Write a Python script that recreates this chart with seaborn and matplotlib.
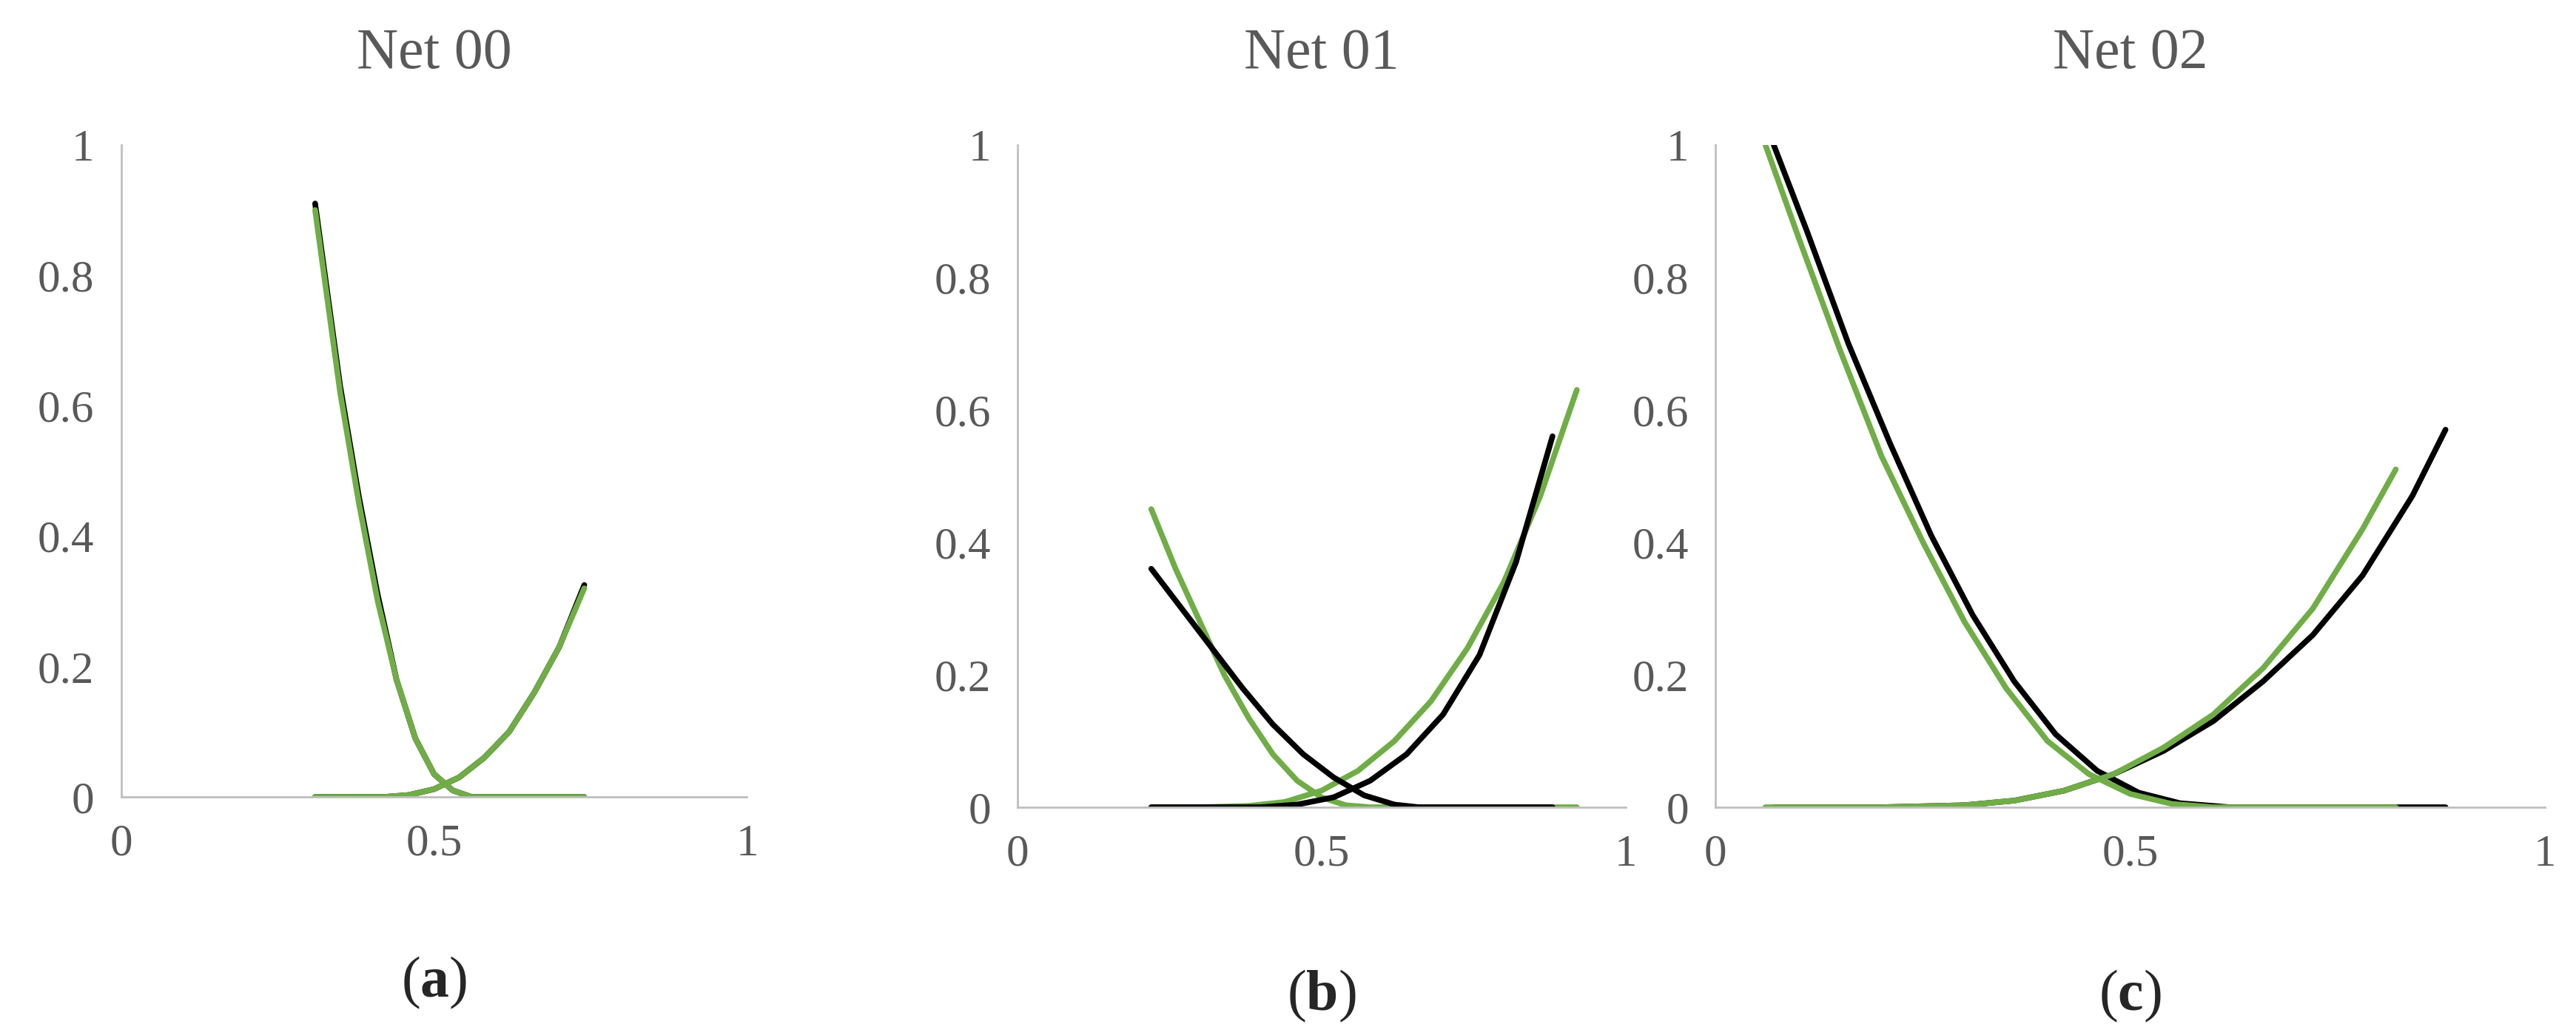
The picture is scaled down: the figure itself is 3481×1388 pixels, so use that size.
import pandas as pd
import matplotlib.pyplot as plt
import seaborn as sns

sns.set_style("white")
plt.rcParams['font.family'] = ['Liberation Serif', 'DejaVu Serif']
plt.rcParams['mathtext.fontset'] = 'custom'
plt.rcParams['mathtext.rm'] = 'Liberation Serif'
plt.rcParams['mathtext.bf'] = 'Liberation Serif:bold'

GREEN = "#70ad47"
BLACK = "#000000"
GRAY = "#595959"

# ---- data ----
# Net 00
n00_dec_x = [0.31, 0.33, 0.35, 0.38, 0.41, 0.44, 0.47, 0.50, 0.53, 0.56, 0.60, 0.65, 0.70, 0.74]
n00_dec_g = [0.90, 0.76, 0.62, 0.45, 0.30, 0.18, 0.09, 0.035, 0.01, 0.0, 0.0, 0.0, 0.0, 0.0]
n00_dec_k = [0.91, 0.77, 0.63, 0.46, 0.31, 0.18, 0.09, 0.035, 0.01, 0.0, 0.0, 0.0, 0.0, 0.0]
n00_inc_x = [0.31, 0.36, 0.42, 0.46, 0.50, 0.54, 0.58, 0.62, 0.66, 0.70, 0.74]
n00_inc_g = [0.0, 0.0, 0.0, 0.003, 0.012, 0.03, 0.06, 0.10, 0.16, 0.23, 0.32]
n00_inc_k = [0.0, 0.0, 0.0, 0.003, 0.012, 0.03, 0.06, 0.10, 0.16, 0.23, 0.325]

# Net 01
n01_gdec_x = [0.22, 0.26, 0.30, 0.34, 0.38, 0.42, 0.46, 0.50, 0.54, 0.58, 0.65, 0.75, 0.85, 0.92]
n01_gdec_y = [0.45, 0.36, 0.28, 0.20, 0.135, 0.08, 0.04, 0.015, 0.003, 0.0, 0.0, 0.0, 0.0, 0.0]
n01_kdec_x = [0.22, 0.27, 0.32, 0.37, 0.42, 0.47, 0.52, 0.57, 0.62, 0.66, 0.75, 0.88]
n01_kdec_y = [0.36, 0.30, 0.24, 0.18, 0.125, 0.08, 0.045, 0.018, 0.004, 0.0, 0.0, 0.0]
n01_ginc_x = [0.22, 0.30, 0.38, 0.44, 0.50, 0.56, 0.62, 0.68, 0.74, 0.80, 0.86, 0.92]
n01_ginc_y = [0.0, 0.0, 0.002, 0.008, 0.025, 0.055, 0.10, 0.16, 0.24, 0.34, 0.47, 0.63]
n01_kinc_x = [0.22, 0.32, 0.40, 0.46, 0.52, 0.58, 0.64, 0.70, 0.76, 0.82, 0.88]
n01_kinc_y = [0.0, 0.0, 0.0, 0.004, 0.015, 0.04, 0.08, 0.14, 0.23, 0.37, 0.56]

# Net 02
n02_gdec_x = [0.06, 0.10, 0.15, 0.20, 0.25, 0.30, 0.35, 0.40, 0.45, 0.50, 0.55, 0.60, 0.70, 0.82]
n02_gdec_y = [1.00, 0.86, 0.69, 0.53, 0.40, 0.28, 0.18, 0.10, 0.05, 0.02, 0.005, 0.0, 0.0, 0.0]
n02_kdec_x = [0.07, 0.11, 0.16, 0.21, 0.26, 0.31, 0.36, 0.41, 0.46, 0.51, 0.56, 0.62, 0.75, 0.88]
n02_kdec_y = [1.00, 0.87, 0.70, 0.55, 0.41, 0.29, 0.19, 0.11, 0.055, 0.022, 0.006, 0.0, 0.0, 0.0]
n02_ginc_x = [0.06, 0.20, 0.30, 0.36, 0.42, 0.48, 0.54, 0.60, 0.66, 0.72, 0.78, 0.82]
n02_ginc_y = [0.0, 0.0, 0.003, 0.01, 0.025, 0.05, 0.09, 0.14, 0.21, 0.30, 0.42, 0.51]
n02_kinc_x = [0.07, 0.20, 0.30, 0.36, 0.42, 0.48, 0.54, 0.60, 0.66, 0.72, 0.78, 0.84, 0.88]
n02_kinc_y = [0.0, 0.0, 0.003, 0.01, 0.025, 0.05, 0.085, 0.13, 0.19, 0.26, 0.35, 0.47, 0.57]

panels = [
    ("Net 00", "a", [0.047, 0.224, 0.243, 0.635],
     [(n00_dec_x, n00_dec_k, BLACK), (n00_inc_x, n00_inc_k, BLACK),
      (n00_dec_x, n00_dec_g, GREEN), (n00_inc_x, n00_inc_g, GREEN)]),
    ("Net 01", "b", [0.395, 0.214, 0.236, 0.645],
     [(n01_gdec_x, n01_gdec_y, GREEN), (n01_ginc_x, n01_ginc_y, GREEN),
      (n01_kdec_x, n01_kdec_y, BLACK), (n01_kinc_x, n01_kinc_y, BLACK)]),
    ("Net 02", "c", [0.666, 0.214, 0.322, 0.645],
     [(n02_kdec_x, n02_kdec_y, BLACK), (n02_kinc_x, n02_kinc_y, BLACK),
      (n02_gdec_x, n02_gdec_y, GREEN), (n02_ginc_x, n02_ginc_y, GREEN)]),
]

fig = plt.figure(figsize=(34.81, 13.88), dpi=100)

for title, letter, rect, curves in panels:
    ax = fig.add_axes(rect)
    for xs, ys, col in curves:
        df = pd.DataFrame({"x": xs, "y": ys})
        sns.lineplot(data=df, x="x", y="y", ax=ax, color=col, linewidth=5.5, sort=False)
    ax.set_xlim(0, 1)
    ax.set_ylim(0, 1)
    ax.set_xticks([0, 0.5, 1])
    ax.set_xticklabels(["0", "0.5", "1"])
    ax.set_yticks([0, 0.2, 0.4, 0.6, 0.8, 1])
    ax.set_yticklabels(["0", "0.2", "0.4", "0.6", "0.8", "1"])
    ax.set_xlabel("")
    ax.set_ylabel("")
    ax.tick_params(length=0, labelsize=44, colors=GRAY, pad=26)
    for s in ["top", "right"]:
        ax.spines[s].set_visible(False)
    for s in ["left", "bottom"]:
        ax.spines[s].set_color("#bfbfbf")
        ax.spines[s].set_linewidth(2)
    ax.set_title(title, fontsize=56, color=GRAY, pad=75)
    ax.text(0.5, -0.285, r"($\mathbf{" + letter + r"}$)", transform=ax.transAxes,
            ha="center", va="center", fontsize=56)

fig.savefig("out.png", dpi=100)
